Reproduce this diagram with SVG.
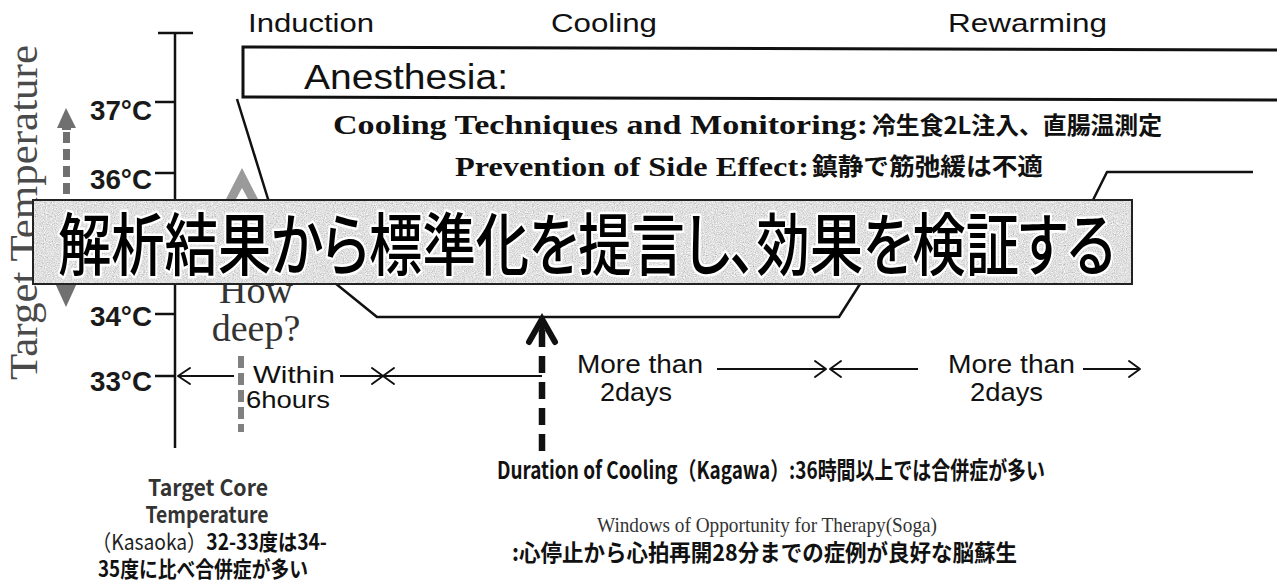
<svg xmlns="http://www.w3.org/2000/svg" width="1277" height="585" viewBox="0 0 1277 585">
<defs>
<style>
.sans{font-family:"Liberation Sans",Arial,sans-serif;fill:#111}
.num{font-family:"Liberation Sans",Arial,sans-serif;font-weight:bold;fill:#1a1a1a}
.serif{font-family:"Liberation Serif","Times New Roman",serif;fill:#111}
.serifB{font-family:"Liberation Serif","Times New Roman","Noto Sans CJK JP",serif;font-weight:bold;fill:#111}
.jpB{font-family:"Noto Sans CJK JP",sans-serif;font-weight:bold;fill:#111}
.jpR{font-family:"Noto Sans CJK JP",sans-serif;font-weight:normal;fill:#222}
.tick{stroke:#111;stroke-width:2.5;fill:none}
.line{stroke:#111;stroke-width:2.5;fill:none;stroke-linejoin:round}
.thin{stroke:#111;stroke-width:2;fill:none}
.head{stroke:#111;stroke-width:2;fill:none;stroke-linecap:round;stroke-linejoin:round}
.greyfill{fill:#707070}
.greydash{stroke:#808080;stroke-width:6;stroke-dasharray:12 5;fill:none}
.banner{font-family:"Noto Sans CJK JP",sans-serif;font-weight:500;fill:#000;stroke:#fff;stroke-width:5;paint-order:stroke;stroke-linejoin:round;font-feature-settings:"palt"}
</style>
<filter id="grain" x="0" y="0" width="1" height="1">
<feTurbulence type="fractalNoise" baseFrequency="0.9" numOctaves="2" seed="7"/>
<feColorMatrix type="matrix" values="0.33 0.33 0.33 0 0  0.33 0.33 0.33 0 0  0.33 0.33 0.33 0 0  0 0 0 0 1"/>
<feComponentTransfer>
<feFuncR type="linear" slope="1.3" intercept="0.1"/>
<feFuncG type="linear" slope="1.3" intercept="0.1"/>
<feFuncB type="linear" slope="1.3" intercept="0.1"/>
</feComponentTransfer>
<feComposite in2="SourceGraphic" operator="in"/>
</filter>
</defs>
<rect width="1277" height="585" fill="#fff"/>

<g id="phase-labels">
<text class="sans" x="248" y="32" font-size="25" textLength="126" lengthAdjust="spacingAndGlyphs">Induction</text>
<text class="sans" x="551" y="32" font-size="25" textLength="106" lengthAdjust="spacingAndGlyphs">Cooling</text>
<text class="sans" x="948" y="32" font-size="25" textLength="159" lengthAdjust="spacingAndGlyphs">Rewarming</text>
</g>

<g id="anesthesia">
<path d="M1277,50 L243,47 L243,97 L1277,100" stroke="#111" stroke-width="3" fill="none"/>
<text class="sans" x="304" y="89" font-size="35" textLength="204" lengthAdjust="spacingAndGlyphs">Anesthesia:</text>
</g>

<g id="techniques">
<text class="serifB" x="333" y="134" font-size="28" textLength="535" lengthAdjust="spacingAndGlyphs">Cooling Techniques and Monitoring:</text>
<text class="jpB" x="872" y="134" font-size="24" textLength="290" lengthAdjust="spacingAndGlyphs">冷生食2L注入、直腸温測定</text>
<text class="serifB" x="455" y="176" font-size="28" textLength="354" lengthAdjust="spacingAndGlyphs">Prevention of Side Effect:</text>
<text class="jpB" x="812" y="175" font-size="24" textLength="231" lengthAdjust="spacingAndGlyphs">鎮静で筋弛緩は不適</text>
</g>

<g id="axis">
<text class="serif" transform="translate(37,380) rotate(-90)" font-size="40" style="fill:#4a4a4a" textLength="335" lengthAdjust="spacingAndGlyphs">Target Temperature</text>
<line class="tick" x1="175" y1="33" x2="175" y2="448" stroke-width="3"/>
<line class="tick" x1="158" y1="33" x2="193" y2="33"/>
<line class="tick" x1="155" y1="102" x2="175" y2="102"/>
<line class="tick" x1="155" y1="173" x2="175" y2="173"/>
<line class="tick" x1="155" y1="314" x2="175" y2="314"/>
<line class="tick" x1="155" y1="376" x2="175" y2="376"/>
<text class="num" x="90" y="120" font-size="28" textLength="62" lengthAdjust="spacingAndGlyphs">37°C</text>
<text class="num" x="90" y="189" font-size="28" textLength="62" lengthAdjust="spacingAndGlyphs">36°C</text>
<text class="num" x="90" y="326" font-size="28" textLength="62" lengthAdjust="spacingAndGlyphs">34°C</text>
<text class="num" x="90" y="391" font-size="28" textLength="62" lengthAdjust="spacingAndGlyphs">33°C</text>
</g>

<g id="connectors">
<path class="line" d="M237,99 L268,199 L335,283 L377,317 L839,317 L860,284 L1093,200 L1107,172 L1253,172"/>
<polygon class="greyfill" points="66,108 57,128 62,128 62,130 71,130 71,128 76,128"/>
<line x1="66.5" y1="132" x2="66.5" y2="199" stroke="#707070" stroke-width="7" stroke-dasharray="11 6"/>
<polygon class="greyfill" points="66,307 55,283 77,283"/>
<polygon fill="#9a9a9a" points="242,168 226,199 236,199 242,188 248,199 258,199"/>
<line class="greydash" x1="241" y1="356" x2="241" y2="432"/>
<line class="thin" x1="178" y1="376" x2="234" y2="376"/>
<polyline class="head" points="190,368 178,376 190,384"/>
<line class="thin" x1="340" y1="376" x2="542" y2="376"/>
<polyline class="head" points="372,368 383,376 372,384"/>
<polyline class="head" points="394,368 383,376 394,384"/>
<line x1="542" y1="330" x2="542" y2="454" stroke="#111" stroke-width="6.5" stroke-dasharray="17 9"/>
<polyline points="529,342 542,319 555,342" stroke="#111" stroke-width="6" fill="none" stroke-linecap="round" stroke-linejoin="miter"/>
<line x1="542" y1="319" x2="542" y2="332" stroke="#111" stroke-width="5"/>
<line class="thin" x1="717" y1="369" x2="826" y2="369"/>
<polyline class="head" points="815,361 826,369 815,377"/>
<line class="thin" x1="830" y1="369" x2="918" y2="369"/>
<polyline class="head" points="841,361 830,369 841,377"/>
<line class="thin" x1="1083" y1="369" x2="1140" y2="369"/>
<polyline class="head" points="1129,361 1140,369 1129,377"/>
</g>

<g id="how-deep">
<text class="serif" x="256" y="303" font-size="38" text-anchor="middle" style="fill:#333">How</text>
<text class="serif" x="256" y="341" font-size="38" text-anchor="middle" style="fill:#333">deep?</text>
</g>

<g id="time-labels">
<text class="sans" x="253" y="383" font-size="24" textLength="82" lengthAdjust="spacingAndGlyphs">Within</text>
<text class="sans" x="246" y="408" font-size="24" textLength="84" lengthAdjust="spacingAndGlyphs">6hours</text>
<text class="sans" x="577" y="373" font-size="25" textLength="126" lengthAdjust="spacingAndGlyphs">More than</text>
<text class="sans" x="600" y="401" font-size="25" textLength="72" lengthAdjust="spacingAndGlyphs">2days</text>
<text class="sans" x="948" y="373" font-size="25" textLength="127" lengthAdjust="spacingAndGlyphs">More than</text>
<text class="sans" x="970" y="401" font-size="25" textLength="73" lengthAdjust="spacingAndGlyphs">2days</text>
</g>

<g id="banner">
<rect x="33" y="200" width="1099" height="84" fill="#bbb" filter="url(#grain)"/>
<rect x="33" y="200" width="1099" height="84" fill="none" stroke="#222" stroke-width="2"/>
<text class="banner" x="58" y="270" font-size="68" textLength="1057" lengthAdjust="spacingAndGlyphs">解析結果から標準化を提言し、効果を検証する</text>
</g>

<g id="target-core">
<text class="jpB" x="208" y="496" font-size="22" text-anchor="middle" textLength="120" lengthAdjust="spacingAndGlyphs" style="fill:#333">Target Core</text>
<text class="jpB" x="207" y="523" font-size="22" text-anchor="middle" textLength="123" lengthAdjust="spacingAndGlyphs" style="fill:#333">Temperature</text>
<text x="92" y="550" font-size="22" textLength="235" lengthAdjust="spacingAndGlyphs"><tspan class="jpR">（Kasaoka）</tspan><tspan class="jpB">32-33度は34-</tspan></text>
<text class="jpB" x="98" y="577" font-size="22" textLength="210" lengthAdjust="spacingAndGlyphs">35度に比べ合併症が多い</text>
</g>

<g id="duration">
<text class="jpB" x="497" y="479" font-size="24" textLength="548" lengthAdjust="spacingAndGlyphs">Duration of Cooling（Kagawa）:36時間以上では合併症が多い</text>
</g>

<g id="windows">
<text class="serif" x="597" y="532" font-size="21" textLength="340" lengthAdjust="spacingAndGlyphs" style="fill:#333">Windows of Opportunity for Therapy(Soga)</text>
<text class="jpB" x="512" y="561" font-size="23" textLength="505" lengthAdjust="spacingAndGlyphs">:心停止から心拍再開28分までの症例が良好な脳蘇生</text>
</g>
</svg>
